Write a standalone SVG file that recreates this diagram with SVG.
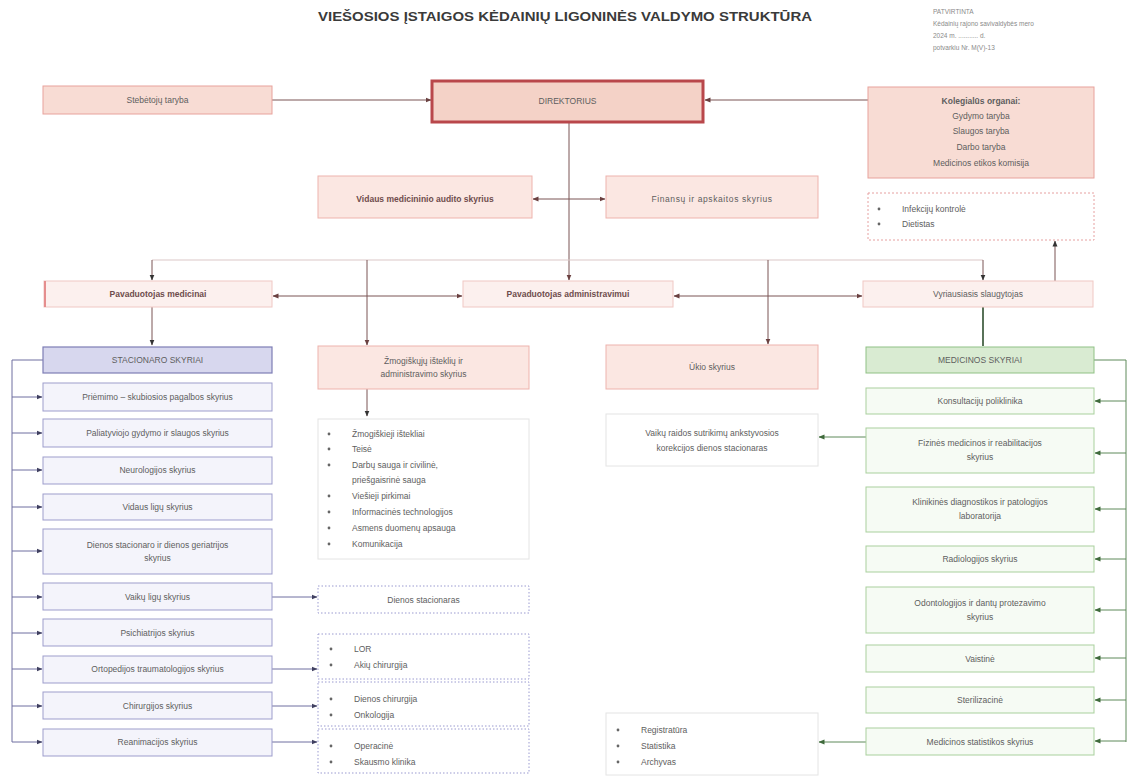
<svg xmlns="http://www.w3.org/2000/svg" width="1128" height="778" viewBox="0 0 1128 778">
<defs>
<style>
text{font-family:"Liberation Sans",Arial,sans-serif;}
.t{font-size:8.5px;fill:#5e5e5e;text-anchor:middle;}
.tl{font-size:8.5px;fill:#5e5e5e;}
.b{font-weight:bold;fill:#6e4c4c;}
.note{font-size:6.5px;fill:#8a8a8a;}
.pink{fill:#f8dcd4;stroke:#e8a29c;stroke-width:1;}
.pink2{fill:#fbe7e2;stroke:#eeb3ad;stroke-width:1;}
.pav{fill:#fcf0ee;stroke:#f0c8c4;stroke-width:1;}
.dir{fill:#f4d2c7;stroke:#b9474b;stroke-width:3;}
.blueh{fill:#d7d7ee;stroke:#7d7db5;stroke-width:1.2;}
.blue{fill:#f4f4fb;stroke:#9d9dcc;stroke-width:1;}
.greenh{fill:#d9ebd2;stroke:#90c185;stroke-width:1;}
.green{fill:#f6fbf4;stroke:#a9d09d;stroke-width:1;}
.list{fill:#ffffff;stroke:#e4e4e4;stroke-width:1;}
.dash{fill:#ffffff;stroke:#9a9ad0;stroke-width:1;stroke-dasharray:1.5 2;}
.dashr{fill:#ffffff;stroke:#e6a0a0;stroke-width:1;stroke-dasharray:2 2;}
.c{fill:none;stroke:#7a5454;stroke-width:1;}
.cl{fill:none;stroke:#dcc8c8;stroke-width:1.2;}
.cb{fill:none;stroke:#6f6fa0;stroke-width:1;}
.cg{fill:none;stroke:#5e8a5a;stroke-width:1;}
.cd{fill:none;stroke:#2f4f2f;stroke-width:1.6;}
</style>
<marker id="a" markerWidth="6" markerHeight="6" refX="5.5" refY="3" orient="auto-start-reverse" markerUnits="userSpaceOnUse"><path d="M0,0.5 L6,3 L0,5.5 z" fill="#6a4040"/></marker>
<marker id="ab" markerWidth="6" markerHeight="6" refX="5.5" refY="3" orient="auto" markerUnits="userSpaceOnUse"><path d="M0,0.5 L6,3 L0,5.5 z" fill="#404060"/></marker>
<marker id="ag" markerWidth="6" markerHeight="6" refX="5.5" refY="3" orient="auto" markerUnits="userSpaceOnUse"><path d="M0,0.5 L6,3 L0,5.5 z" fill="#3f6a3b"/></marker>
<marker id="ak" markerWidth="6" markerHeight="6" refX="5.5" refY="3" orient="auto" markerUnits="userSpaceOnUse"><path d="M0,0.5 L6,3 L0,5.5 z" fill="#333"/></marker>
</defs>
<rect width="1128" height="778" fill="#ffffff"/>

<text x="565" y="21" text-anchor="middle" font-size="12" font-weight="bold" fill="#3a3a3a" textLength="494" lengthAdjust="spacingAndGlyphs">VIEŠOSIOS ĮSTAIGOS KĖDAINIŲ LIGONINĖS VALDYMO STRUKTŪRA</text>
<g id="note">
<text class="note" x="933" y="14">PATVIRTINTA</text>
<text class="note" x="933" y="26">Kėdainių rajono savivaldybės mero</text>
<text class="note" x="933" y="38" fill="#9a6060">2024 m. ........... d.</text>
<text class="note" x="933" y="50">potvarkiu Nr. M(V)-13</text>
</g>

<g id="connectors">
<path class="c" d="M272,100 H431" marker-end="url(#a)"/>
<path class="c" d="M868,100 H705" marker-end="url(#a)"/>
<path class="c" d="M569,123 V280" marker-end="url(#a)"/>
<path class="c" d="M569,199 H533" marker-end="url(#a)"/>
<path class="c" d="M569,199 H605" marker-end="url(#a)"/>
<path class="cl" d="M152,260 H983"/>
<path class="c" d="M152,260 V280" marker-end="url(#ak)"/>
<path class="c" d="M367,260 V345" marker-end="url(#a)"/>
<path class="c" d="M768,260 V344" marker-end="url(#a)"/>
<path class="c" d="M983,260 V280" marker-end="url(#ak)"/>
<path class="c" d="M1055,281 V241" marker-end="url(#ak)"/>
<path class="c" d="M462,296 H273" marker-start="url(#a)" marker-end="url(#a)"/>
<path class="c" d="M674,296 H862" marker-start="url(#a)" marker-end="url(#a)"/>
<path class="c" d="M152,307 V345" marker-end="url(#ak)"/>
<path class="cd" d="M983,307 V346"/>
<path class="c" d="M367,389 V416" marker-end="url(#ak)"/>
<path class="cb" d="M12,360 V742"/>
<path class="cb" d="M12,360 H43"/>
<path class="cb" d="M12,397 H42" marker-end="url(#ab)"/>
<path class="cb" d="M12,433 H42" marker-end="url(#ab)"/>
<path class="cb" d="M12,470 H42" marker-end="url(#ab)"/>
<path class="cb" d="M12,507 H42" marker-end="url(#ab)"/>
<path class="cb" d="M12,551 H42" marker-end="url(#ab)"/>
<path class="cb" d="M12,597 H42" marker-end="url(#ab)"/>
<path class="cb" d="M12,633 H42" marker-end="url(#ab)"/>
<path class="cb" d="M12,669 H42" marker-end="url(#ab)"/>
<path class="cb" d="M12,706 H42" marker-end="url(#ab)"/>
<path class="cb" d="M12,742 H42" marker-end="url(#ab)"/>
<path class="cb" d="M272,597 H317" marker-end="url(#ab)"/>
<path class="cb" d="M272,669 H317" marker-end="url(#ab)"/>
<path class="cb" d="M272,706 H317" marker-end="url(#ab)"/>
<path class="cb" d="M272,742 H317" marker-end="url(#ab)"/>
<path class="cg" d="M1126,360 V742"/>
<path class="cg" d="M1094,360 H1126"/>
<path class="cg" d="M1126,401 H1095" marker-end="url(#ag)"/>
<path class="cg" d="M1126,453 H1095" marker-end="url(#ag)"/>
<path class="cg" d="M1126,509 H1095" marker-end="url(#ag)"/>
<path class="cg" d="M1126,559 H1095" marker-end="url(#ag)"/>
<path class="cg" d="M1126,610 H1095" marker-end="url(#ag)"/>
<path class="cg" d="M1126,658 H1095" marker-end="url(#ag)"/>
<path class="cg" d="M1126,700 H1095" marker-end="url(#ag)"/>
<path class="cg" d="M1126,741 H1095" marker-end="url(#ag)"/>
<path class="cg" d="M866,437 H819" marker-end="url(#ag)"/>
<path class="cg" d="M866,742 H819" marker-end="url(#ag)"/>
</g>

<g id="steb"><rect class="pink" x="43" y="86" width="229" height="28"/><text class="t" x="157.5" y="103">Stebėtojų taryba</text></g>
<g id="direktorius"><rect class="dir" x="432" y="81" width="271" height="41"/><text class="t" x="567.5" y="104">DIREKTORIUS</text></g>
<g id="kolegialus"><rect class="pink" x="868" y="87" width="226" height="91"/>
<text class="t" x="981" y="104" font-weight="bold" fill="#4a3a3a">Kolegialūs organai:</text>
<text class="t" x="981" y="119">Gydymo taryba</text>
<text class="t" x="981" y="134">Slaugos taryba</text>
<text class="t" x="981" y="150">Darbo taryba</text>
<text class="t" x="981" y="166">Medicinos etikos komisija</text></g>
<g id="auditas"><rect class="pink2" x="318" y="176" width="214" height="42"/><text class="t b" x="425" y="202">Vidaus medicininio audito skyrius</text></g>
<g id="finansai"><rect class="pink2" x="606" y="176" width="212" height="42"/><text class="t" x="712" y="202" letter-spacing="0.6">Finansų ir apskaitos skyrius</text></g>
<g id="infekcijos"><rect class="dashr" x="868" y="193" width="226" height="47"/>
<circle cx="879" cy="209" r="1.4" fill="#666"/><text class="tl" x="902" y="212">Infekcijų kontrolė</text>
<circle cx="879" cy="224" r="1.4" fill="#666"/><text class="tl" x="902" y="227">Dietistas</text></g>

<g id="pav-med"><rect class="pav" x="44" y="281" width="228" height="26"/><rect x="44" y="281" width="2" height="26" fill="#e58e8e"/><text class="t b" x="158" y="297">Pavaduotojas medicinai</text></g>
<g id="pav-adm"><rect class="pav" x="463" y="281" width="210" height="26"/><text class="t b" x="568" y="297">Pavaduotojas administravimui</text></g>
<g id="vyr-slaug"><rect class="pav" x="863" y="281" width="230" height="26"/><text class="t" x="978" y="297">Vyriausiasis slaugytojas</text></g>

<g id="stacionaro"><rect class="blueh" x="43" y="347" width="229" height="26"/><text class="t" x="157.5" y="363">STACIONARO SKYRIAI</text></g>
<g id="priemimo"><rect class="blue" x="43" y="383" width="229" height="28"/><text class="t" x="157.5" y="400">Priėmimo – skubiosios pagalbos skyrius</text></g>
<g id="paliatyv"><rect class="blue" x="43" y="419" width="229" height="28"/><text class="t" x="157.5" y="436">Paliatyviojo gydymo ir slaugos skyrius</text></g>
<g id="neuro"><rect class="blue" x="43" y="457" width="229" height="27"/><text class="t" x="157.5" y="473">Neurologijos skyrius</text></g>
<g id="vidaus"><rect class="blue" x="43" y="494" width="229" height="26"/><text class="t" x="157.5" y="510">Vidaus ligų skyrius</text></g>
<g id="dienos-geri"><rect class="blue" x="43" y="529" width="229" height="45"/><text class="t" x="157.5" y="548">Dienos stacionaro ir dienos geriatrijos</text><text class="t" x="157.5" y="561">skyrius</text></g>
<g id="vaiku"><rect class="blue" x="43" y="583" width="229" height="27"/><text class="t" x="157.5" y="600">Vaikų ligų skyrius</text></g>
<g id="psich"><rect class="blue" x="43" y="619" width="229" height="27"/><text class="t" x="157.5" y="636">Psichiatrijos skyrius</text></g>
<g id="ortop"><rect class="blue" x="43" y="656" width="229" height="27"/><text class="t" x="157.5" y="672" fill="#6d7fb5">Ortopedijos traumatologijos skyrius</text></g>
<g id="chir"><rect class="blue" x="43" y="692" width="229" height="27"/><text class="t" x="157.5" y="709">Chirurgijos skyrius</text></g>
<g id="reanim"><rect class="blue" x="43" y="729" width="229" height="27"/><text class="t" x="157.5" y="745">Reanimacijos skyrius</text></g>

<g id="zmogiskuju"><rect class="pink2" x="318" y="346" width="211" height="43"/><text class="t" x="423.5" y="364">Žmogiškųjų išteklių ir</text><text class="t" x="423.5" y="377">administravimo skyrius</text></g>
<g id="zm-list"><rect class="list" x="318" y="419" width="211" height="140"/>
<g fill="#666"><circle cx="329" cy="434" r="1.4"/><circle cx="329" cy="449" r="1.4"/><circle cx="329" cy="465" r="1.4"/><circle cx="329" cy="496" r="1.4"/><circle cx="329" cy="512" r="1.4"/><circle cx="329" cy="528" r="1.4"/><circle cx="329" cy="544" r="1.4"/></g>
<text class="tl" x="352" y="437">Žmogiškieji ištekliai</text>
<text class="tl" x="352" y="452">Teisė</text>
<text class="tl" x="352" y="468">Darbų sauga ir civilinė,</text>
<text class="tl" x="352" y="483">priešgaisrinė sauga</text>
<text class="tl" x="352" y="499">Viešieji pirkimai</text>
<text class="tl" x="352" y="515">Informacinės technologijos</text>
<text class="tl" x="352" y="531">Asmens duomenų apsauga</text>
<text class="tl" x="352" y="547">Komunikacija</text></g>
<g id="dienos-stac"><rect class="dash" x="318" y="586" width="211" height="27"/><text class="t" x="423.5" y="603">Dienos stacionaras</text></g>
<g id="lor"><rect class="dash" x="318" y="634" width="211" height="45"/>
<circle cx="331" cy="649" r="1.4" fill="#666"/><text class="tl" x="354" y="652">LOR</text>
<circle cx="331" cy="665" r="1.4" fill="#666"/><text class="tl" x="354" y="668">Akių chirurgija</text></g>
<g id="dienos-chir"><rect class="dash" x="318" y="682" width="211" height="44"/>
<circle cx="331" cy="699" r="1.4" fill="#666"/><text class="tl" x="354" y="702">Dienos chirurgija</text>
<circle cx="331" cy="715" r="1.4" fill="#666"/><text class="tl" x="354" y="718">Onkologija</text></g>
<g id="operacine"><rect class="dash" x="318" y="729" width="211" height="44"/>
<circle cx="331" cy="746" r="1.4" fill="#666"/><text class="tl" x="354" y="749">Operacinė</text>
<circle cx="331" cy="762" r="1.4" fill="#666"/><text class="tl" x="354" y="765">Skausmo klinika</text></g>

<g id="ukio"><rect class="pink2" x="606" y="345" width="212" height="44"/><text class="t" x="712" y="370">Ūkio skyrius</text></g>
<g id="vaiku-raidos"><rect class="list" x="606" y="414" width="212" height="52"/><text class="t" x="712" y="436">Vaikų raidos sutrikimų ankstyvosios</text><text class="t" x="712" y="451">korekcijos dienos stacionaras</text></g>
<g id="registratura"><rect class="list" x="606" y="713" width="212" height="62"/>
<g fill="#666"><circle cx="618" cy="730" r="1.4"/><circle cx="618" cy="746" r="1.4"/><circle cx="618" cy="762" r="1.4"/></g>
<text class="tl" x="641" y="733">Registratūra</text><text class="tl" x="641" y="749">Statistika</text><text class="tl" x="641" y="765">Archyvas</text></g>

<g id="medicinos"><rect class="greenh" x="866" y="347" width="228" height="26"/><text class="t" x="980" y="363">MEDICINOS SKYRIAI</text></g>
<g id="konsult"><rect class="green" x="866" y="388" width="228" height="26"/><text class="t" x="980" y="404">Konsultacijų poliklinika</text></g>
<g id="fizines"><rect class="green" x="866" y="428" width="228" height="45"/><text class="t" x="980" y="446">Fizinės medicinos ir reabilitacijos</text><text class="t" x="980" y="460">skyrius</text></g>
<g id="klinikines"><rect class="green" x="866" y="487" width="228" height="45"/><text class="t" x="980" y="505">Klinikinės diagnostikos ir patologijos</text><text class="t" x="980" y="519">laboratorija</text></g>
<g id="radiol"><rect class="green" x="866" y="546" width="228" height="26"/><text class="t" x="980" y="562">Radiologijos skyrius</text></g>
<g id="odonto"><rect class="green" x="866" y="587" width="228" height="46"/><text class="t" x="980" y="606">Odontologijos ir dantų protezavimo</text><text class="t" x="980" y="620">skyrius</text></g>
<g id="vaistine"><rect class="green" x="866" y="645" width="228" height="27"/><text class="t" x="980" y="662">Vaistinė</text></g>
<g id="steriliz"><rect class="green" x="866" y="687" width="228" height="26"/><text class="t" x="980" y="703">Sterilizacinė</text></g>
<g id="med-stat"><rect class="green" x="866" y="728" width="228" height="27"/><text class="t" x="980" y="745">Medicinos statistikos skyrius</text></g>
</svg>
